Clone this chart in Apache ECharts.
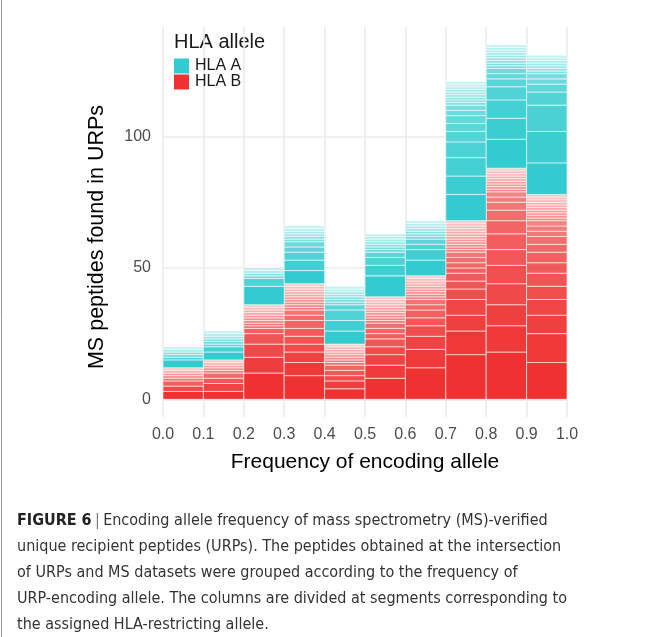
<!DOCTYPE html>
<html>
<head>
<meta charset="utf-8">
<script src="https://cdn.jsdelivr.net/npm/echarts@6/dist/echarts.min.js"></script>
<style>
  html, body { margin: 0; padding: 0; background: #ffffff; }
  #chart { width: 654px; height: 637px; }
</style>
</head>
<body>
<div id="chart"></div>
<script>
// Histogram bins of the encoding-allele frequency (left edge of each 0.1-wide bin)
const binStarts = [0.0, 0.1, 0.2, 0.3, 0.4, 0.5, 0.6, 0.7, 0.8, 0.9];
const binWidth = 0.1;

// Peptide counts per restricting allele inside each bin (largest allele first)
const hlaBSegments = [
  [3, 2, 2, 1, 1, 1, 1, 1],
  [3, 3, 2, 2, 1, 1, 1, 1, 1],
  [10, 6, 5, 4, 2, 1, 1, 1, 1, 1, 1, 1, 1, 1],
  [9, 5, 4, 3, 3, 3, 3, 2, 2, 1, 1, 1, 1, 1, 1, 1, 1, 1, 1],
  [4, 3, 2, 2, 2, 1, 1, 1, 1, 1, 1, 1, 1],
  [8, 5, 4, 3, 3, 2, 2, 2, 1, 1, 1, 1, 1, 1, 1, 1, 1, 1],
  [12, 7, 5, 4, 3, 3, 2, 2, 1, 1, 1, 1, 1, 1, 1, 1, 1],
  [17, 9, 6, 6, 4, 3, 3, 2, 2, 2, 2, 1, 1, 1, 1, 1, 1, 1, 1, 1, 1, 1, 1],
  [18, 10, 8, 8, 7, 6, 6, 5, 4, 3, 2, 2, 1, 1, 1, 1, 1, 1, 1, 1, 1],
  [14, 11, 7, 6, 5, 5, 4, 4, 3, 3, 2, 2, 2, 1, 1, 1, 1, 1, 1, 1, 1, 1, 1]
];
const hlaASegments = [
  [3, 1, 1, 1, 1, 1],
  [3, 2, 1, 1, 1, 1, 1, 1],
  [7, 3, 1, 1, 1, 1],
  [5, 4, 3, 2, 2, 1, 1, 1, 1, 1, 1],
  [5, 4, 4, 2, 1, 1, 1, 1, 1, 1, 1],
  [8, 4, 3, 2, 1, 1, 1, 1, 1, 1, 1],
  [6, 4, 2, 2, 1, 1, 1, 1, 1, 1, 1],
  [10, 7, 7, 6, 4, 3, 3, 2, 2, 1, 1, 1, 1, 1, 1, 1, 1, 1],
  [11, 8, 7, 5, 3, 2, 2, 1, 1, 1, 1, 1, 1, 1, 1, 1],
  [12, 12, 10, 5, 3, 2, 2, 1, 1, 1, 1, 1, 1, 1]
];

const yTickValues = [0, 50, 100];
const seriesNames = ['HLA A', 'HLA B'];
const seriesRGB = { 'HLA A': '50,203,207', 'HLA B': '238,50,50' };

const captionLines = [
  'unique recipient peptides (URPs). The peptides obtained at the intersection',
  'of URPs and MS datasets were grouped according to the frequency of',
  'URP-encoding allele. The columns are divided at segments corresponding to',
  'the assigned HLA-restricting allele.'
];

const sum = arr => arr.reduce((a, b) => a + b, 0);

// Turn per-bin segment counts into stacked rectangles: [x0, x1, y0, y1, rank, nSegments]
function stackSegments(segmentsPerBin, baseTotals) {
  const out = [];
  segmentsPerBin.forEach((segs, i) => {
    let y = baseTotals[i];
    segs.forEach((c, r) => {
      out.push([binStarts[i], binStarts[i] + binWidth, y, y + c, r, segs.length]);
      y += c;
    });
  });
  return out;
}

const hlaBTotals = hlaBSegments.map(sum);
const zeros = binStarts.map(() => 0);
const hlaBData = stackSegments(hlaBSegments, zeros);
const hlaAData = stackSegments(hlaASegments, hlaBTotals);

const yMaxData = Math.max(...hlaASegments.map((s, i) => sum(s) + hlaBTotals[i]));
const yPad = yMaxData * 0.05;

function makeRenderer(rgb) {
  return function (params, api) {
    const x0 = api.value(0), x1 = api.value(1);
    const y0 = api.value(2), y1 = api.value(3);
    const rank = api.value(4), n = api.value(5);
    const pTop = api.coord([x0, y1]);
    const pBot = api.coord([x1, y0]);
    const alpha = n > 1 ? 1 - 0.72 * rank / (n - 1) : 1;
    return {
      type: 'rect',
      shape: { x: pTop[0], y: pTop[1], width: pBot[0] - pTop[0], height: pBot[1] - pTop[1] },
      style: { fill: 'rgba(' + rgb + ',' + alpha.toFixed(3) + ')', stroke: 'rgba(255,255,255,0.75)', lineWidth: 0.8 }
    };
  };
}

const chart = echarts.init(document.getElementById('chart'), null, { renderer: 'canvas' });

const fontMain = '"Liberation Sans", Arial, Helvetica, sans-serif';
const fontCaption = '"DejaVu Sans Condensed", "Liberation Sans", sans-serif';
const captionSize = 16;

chart.setOption({
  backgroundColor: '#ffffff',
  animation: false,
  grid: { left: 163, right: 87, top: 27, bottom: 220, containLabel: false },
  xAxis: {
    type: 'value',
    min: 0,
    max: 1,
    interval: 0.1,
    axisLine: { show: false },
    axisTick: { show: false },
    axisLabel: {
      color: '#4d4d4d', fontSize: 16, fontFamily: fontMain, margin: 10,
      formatter: v => v.toFixed(1)
    },
    splitLine: { show: true, lineStyle: { color: '#ebebeb', width: 1.6 } }
  },
  yAxis: {
    type: 'value',
    min: -yPad,
    max: yMaxData + yPad,
    axisLine: { show: false },
    axisTick: { show: false, customValues: yTickValues },
    axisLabel: {
      customValues: yTickValues,
      color: '#4d4d4d', fontSize: 16, fontFamily: fontMain, margin: 12,
      formatter: v => String(Math.round(v))
    },
    splitLine: { show: true, lineStyle: { color: '#ebebeb', width: 1.6 } }
  },
  legend: {
    data: seriesNames,
    orient: 'vertical',
    left: 174,
    top: 58,
    padding: 0,
    itemWidth: 15,
    itemHeight: 15,
    itemGap: 0,
    icon: 'rect',
    textStyle: { fontSize: 16, color: '#1a1a1a', fontFamily: fontMain, padding: [0, 0, 0, 1] }
  },
  series: [
    {
      name: 'HLA B', type: 'custom', data: hlaBData,
      encode: { x: [0, 1], y: [2, 3] },
      itemStyle: { color: 'rgb(' + seriesRGB['HLA B'] + ')' },
      renderItem: makeRenderer(seriesRGB['HLA B']), z: 2
    },
    {
      name: 'HLA A', type: 'custom', data: hlaAData,
      encode: { x: [0, 1], y: [2, 3] },
      itemStyle: { color: 'rgb(' + seriesRGB['HLA A'] + ')' },
      renderItem: makeRenderer(seriesRGB['HLA A']), z: 2
    }
  ],
  graphic: [
    { type: 'line', shape: { x1: 1.5, y1: 0, x2: 1.5, y2: 637 }, style: { stroke: '#9a9a9a', lineWidth: 1 } },
    { type: 'text', left: 174, top: 32, style: { text: 'HLA allele', fontSize: 20, fill: '#1a1a1a', fontFamily: fontMain } },
    { type: 'text', x: 365, y: 462, style: { text: 'Frequency of encoding allele', fontSize: 21, fill: '#000', fontFamily: fontMain, align: 'center', verticalAlign: 'middle' } },
    { type: 'text', x: 97, y: 237, rotation: Math.PI / 2, style: { text: 'MS peptides found in URPs', fontSize: 21.5, fill: '#000', fontFamily: fontMain, align: 'center', verticalAlign: 'middle' } },
    {
      type: 'text', x: 17, y: 521,
      style: {
        text: '{b|FIGURE 6} {s||} {n|Encoding allele frequency of mass spectrometry (MS)-verified}',
        verticalAlign: 'middle',
        rich: {
          b: { fontSize: captionSize, fontWeight: 'bold', fill: '#222', fontFamily: fontCaption },
          s: { fontSize: captionSize, fill: '#777', fontFamily: fontCaption },
          n: { fontSize: captionSize, fill: '#333', fontFamily: fontCaption }
        }
      }
    }
  ].concat(captionLines.map((t, i) => ({
    type: 'text', x: 17, y: 547 + i * 26,
    style: { text: t, fontSize: captionSize, fill: '#333', fontFamily: fontCaption, verticalAlign: 'middle' }
  })))
});
</script>
</body>
</html>
